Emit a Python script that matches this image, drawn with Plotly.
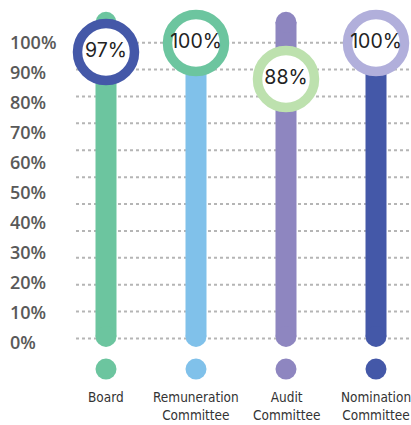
import plotly.graph_objects as go

categories = ["Board", "Remuneration<br>Committee", "Audit<br>Committee", "Nomination<br>Committee"]
values = [97, 100, 88, 100]
value_labels = ["97%", "100%", "88%", "100%"]
bar_colors = ["#6cc59f", "#80c1ea", "#8e86c0", "#4458a8"]
ring_colors = ["#4458a8", "#6cc59f", "#bde1ae", "#b1afdb"]
tick_vals = [0, 10, 20, 30, 40, 50, 60, 70, 80, 90, 100]
tick_text = ["0%", "10%", "20%", "30%", "40%", "50%", "60%", "70%", "80%", "90%", "100%"]

W, H = 411, 425
x_idx = list(range(len(categories)))

fig = go.Figure()

# decorative dotted gridlines (12, evenly spaced, independent of tick labels)
n_grid = 12
g_top, g_bot = 100.1, 1.5
for k in range(n_grid):
    gy = g_top - k * (g_top - g_bot) / (n_grid - 1)
    fig.add_shape(type="line", xref="paper", yref="y", x0=76 / W, x1=1, y0=gy, y1=gy,
                  line=dict(color="#b5b5b5", width=2, dash="dot"), layer="below")

# vertical rounded bars
bar_bottom, bar_top = 2.2, 106.9
for i in x_idx:
    fig.add_trace(go.Scatter(x=[i, i], y=[bar_bottom, bar_top], mode="lines+markers",
                             line=dict(color=bar_colors[i], width=21),
                             marker=dict(color=bar_colors[i], size=21, line=dict(width=0)),
                             hoverinfo="skip", showlegend=False))

# bottom dots
fig.add_trace(go.Scatter(x=x_idx, y=[-8.7] * len(x_idx), mode="markers",
                         marker=dict(color=bar_colors, size=21, line=dict(width=0)),
                         hoverinfo="skip", showlegend=False))

# value rings
fig.add_trace(go.Scatter(x=x_idx, y=values, mode="markers+text", text=value_labels,
                         textposition="middle center",
                         textfont=dict(family="Inter, Noto Sans, sans-serif", size=19.5, color="#222222"),
                         marker=dict(color="white", size=57, line=dict(color=ring_colors, width=9.5)),
                         hoverinfo="skip", showlegend=False))

# y tick labels
for v, t in zip(tick_vals, tick_text):
    fig.add_annotation(x=8 / W, xref="paper", y=v + 0.3, yref="y", text=t, showarrow=False,
                       xanchor="left", yanchor="middle",
                       font=dict(family="Open Sans, Liberation Sans, sans-serif", size=18,
                                 color="#595959", weight=600))

# category labels
for i, c in zip(x_idx, categories):
    fig.add_annotation(x=i, y=-14.5, xref="x", yref="y", text=c, showarrow=False,
                       xanchor="center", yanchor="top",
                       font=dict(family="DejaVu Sans Condensed, sans-serif",
                                 size=13.5, color="#333333"))

px0 = 106
step = 90
y0px = 343
fig.update_layout(
    width=W, height=H, margin=dict(l=0, r=0, t=0, b=0),
    paper_bgcolor="white", plot_bgcolor="white",
    xaxis=dict(range=[-px0 / step, (W - px0) / step], visible=False, fixedrange=True),
    yaxis=dict(range=[-(H - y0px) / 3, y0px / 3], visible=False, fixedrange=True),
    showlegend=False,
)

fig.write_html("out.html")
